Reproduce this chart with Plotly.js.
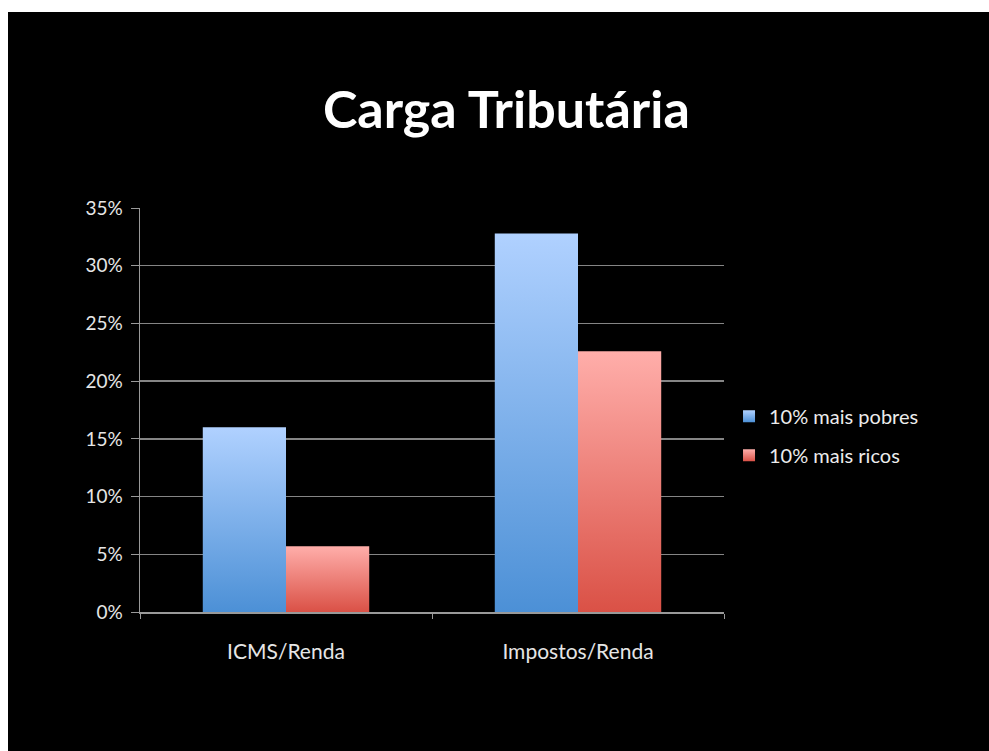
<!DOCTYPE html>
<html>
<head>
<meta charset="utf-8">
<script src="https://cdn.plot.ly/plotly-3.0.1.min.js"></script>
<style>
  html, body { margin: 0; padding: 0; background: #ffffff; width: 989px; height: 751px; overflow: hidden; }
  #chart { position: absolute; left: 8px; top: 12px; width: 981px; height: 739px; background: #000; }
</style>
</head>
<body>
<div id="chart"></div>
<script>
const categories = ["ICMS/Renda", "Impostos/Renda"];
const seriesNames = ["10% mais pobres", "10% mais ricos"];
const pobres = [16.0, 32.8];
const ricos = [5.7, 22.6];
const yTickVals = [0, 5, 10, 15, 20, 25, 30, 35];
const yTickText = ["0%", "5%", "10%", "15%", "20%", "25%", "30%", "35%"];

const FONT = "Lato, 'Open Sans', sans-serif";

const traces = [
  { type: "bar", name: seriesNames[0], x: categories, y: pobres,
    marker: { color: "#7fb1ee", line: { width: 0 } }, legendgroup: "a", hoverinfo: "none" },
  { type: "bar", name: seriesNames[1], x: categories, y: ricos,
    marker: { color: "#ef8580", line: { width: 0 } }, legendgroup: "b", hoverinfo: "none" }
];

const layout = {
  width: 981, height: 739,
  paper_bgcolor: "#000000", plot_bgcolor: "#000000",
  margin: { l: 132, r: 265, t: 196, b: 139 },
  barmode: "group", bargap: 0.43, bargroupgap: 0,
  title: { text: "Carga Tributária", font: { family: FONT, size: 52, weight: 700, color: "#ffffff" },
           x: 0.508, xanchor: "center", y: 0.868, yanchor: "middle", xref: "container", yref: "container" },
  xaxis: {
    type: "category", tickson: "boundaries", ticks: "outside", ticklen: 5, tickcolor: "#999",
    showline: true, linecolor: "#999", linewidth: 1.5, showgrid: false,
    tickfont: { family: FONT, size: 21, color: "#e6e6e6" }, ticklabelstandoff: 20,
    fixedrange: true
  },
  yaxis: {
    range: [0, 35], tickmode: "array", tickvals: yTickVals, ticktext: yTickText,
    ticks: "outside", ticklen: 8, tickcolor: "#999",
    showline: true, linecolor: "#999", linewidth: 1.5,
    showgrid: true, gridcolor: "#858585", gridwidth: 1.5, zeroline: false,
    tickfont: { family: FONT, size: 19, color: "#e6e6e6" }, ticklabelstandoff: 4,
    fixedrange: true
  },
  legend: {
    x: 1.0086, xanchor: "left", y: 0.436, yanchor: "middle",
    font: { family: FONT, size: 20, color: "#ececec" },
    traceorder: "grouped", tracegroupgap: 10, itemwidth: 30, bgcolor: "rgba(0,0,0,0)"
  },
  showlegend: true
};

function applyGradients() {
  const svg = document.querySelector("#chart .main-svg");
  if (!svg) return;
  let defs = svg.querySelector("defs");
  if (!defs) { defs = document.createElementNS("http://www.w3.org/2000/svg", "defs"); svg.insertBefore(defs, svg.firstChild); }
  const grads = [
    { id: "gBlue", top: "#b0d1ff", bottom: "#4c90d6" },
    { id: "gRed", top: "#ffaeaa", bottom: "#da5146" }
  ];
  grads.forEach(g => {
    if (document.getElementById(g.id)) return;
    const lg = document.createElementNS("http://www.w3.org/2000/svg", "linearGradient");
    lg.setAttribute("id", g.id);
    lg.setAttribute("x1", "0"); lg.setAttribute("y1", "0");
    lg.setAttribute("x2", "0"); lg.setAttribute("y2", "1");
    [[0, g.top], [1, g.bottom]].forEach(([o, c]) => {
      const s = document.createElementNS("http://www.w3.org/2000/svg", "stop");
      s.setAttribute("offset", o); s.setAttribute("stop-color", c);
      lg.appendChild(s);
    });
    defs.appendChild(lg);
  });
  const barTraces = document.querySelectorAll("#chart .barlayer .trace");
  barTraces.forEach((t, i) => {
    t.querySelectorAll("path").forEach(p => { p.style.fill = "url(#" + grads[i].id + ")"; });
  });
  const legendPts = document.querySelectorAll("#chart .legend .traces .legendpoints path");
  legendPts.forEach((p, i) => { p.style.fill = "url(#" + grads[i].id + ")"; });
}

Plotly.newPlot("chart", traces, layout, { displayModeBar: false, staticPlot: true }).then(applyGradients);
</script>
</body>
</html>
